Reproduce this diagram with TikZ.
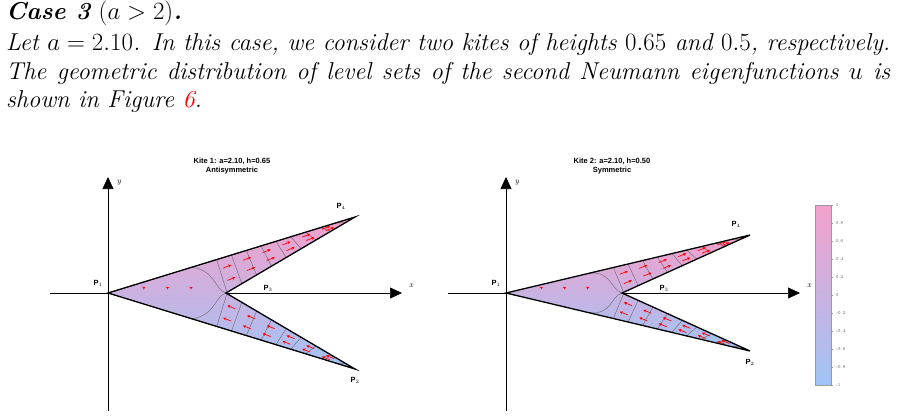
\documentclass[tikz,border=0pt]{standalone}
\usepackage{fontspec}
\newfontfamily\plotfont{Liberation Sans}
\usetikzlibrary{calc,arrows.meta}

\tikzset{%
  kite edge/.style={
    line width=1.3pt,
    line join=miter
  },
  level line/.style={
    draw=black!60,
    line width=0.4pt
  },
  flow arrow/.style={
    red,
    line width=0.7pt,
    -{Stealth[length=3pt,width=3pt]}
  },
  axis/.style={
    line width=0.6pt,
    -{Triangle[length=12pt,width=11pt]}
  },
  vertex label/.style={
    font=\plotfont\fontsize{7.5}{8}\selectfont\bfseries
  },
  plot title/.style={
    font=\plotfont\fontsize{7.5}{8.5}\selectfont\bfseries,
    align=center
  },
  tick label/.style={
    font=\fontsize{4.5}{5}\selectfont,
    anchor=west,
    text=black!60
  },
}

\definecolor{kitepink}{RGB}{244,160,204}
\definecolor{kitemid}{RGB}{200,180,228}
\definecolor{kiteblue}{RGB}{160,196,246}

\begin{document}
\begin{tikzpicture}[x=1pt, y=-1pt]

\useasboundingbox (0,0) rectangle (897,418);

% text above the figure
\node [anchor=north west, inner sep=0pt, text width=884pt, align=justify,
  font=\fontsize{24.4}{28.5}\selectfont\itshape] (text) at (6,1)
  {\textbf{Case 3} $(a>2)$\textbf{.}\\[2.5pt]
   Let $a=2.10$. In this case, we consider two kites of heights $0.65$ and $0.5$, respectively.
   The geometric distribution of level sets of the second Neumann eigenfunctions $u$ is
   shown in Figure \textcolor{red}{6}.};

% two kites
\foreach \ox/\tipx/\tipy/\px/\name/\h/\kind/\tx in
    {0/355/76/226/1/0.65/Antisymmetric/232, 398/750/58/622/2/0.50/Symmetric/214} {
  \begin{scope}[xshift=\ox]
    \coordinate (P1-\name) at (108,293);
    \coordinate (P3-\name) at (\px-\ox,293);
    \coordinate (P4-\name) at (\tipx-\ox,293-\tipy);
    \coordinate (P2-\name) at (\tipx-\ox,293+\tipy);

    \node [plot title] (title-\name) at (\tx,166) {Kite \name: a=2.10, h=\h\\\kind};

    \draw [axis] (50,293) -- (402,293) coordinate (xend-\name);
    \draw [axis] (108,411) -- (108,177) coordinate (yend-\name);
    \node [font=\fontsize{8}{9}\selectfont\itshape] (x-\name) at (411,286) {x};
    \node [font=\fontsize{8}{9}\selectfont\itshape] (y-\name) at (119,183) {y};

    \shade [top color=kitepink, middle color=kitemid, bottom color=kiteblue]
      (P1-\name) -- (P4-\name) -- (P3-\name) -- (P2-\name) -- cycle;

    % level lines across the arms
    \foreach \s in {0.44,0.5,...,0.95} {
      \pgfmathsetmacro{\t}{min(0.97,(\s*(\tipx-\ox-108)-(\px-\ox-108))/(\tipx-\px)+0.08)}
      \draw [level line] ($(P1-\name)!\s!(P4-\name)$) -- ($(P3-\name)!\t!(P4-\name)$);
      \draw [level line] ($(P1-\name)!\s!(P2-\name)$) -- ($(P3-\name)!\t!(P2-\name)$);
    }
    \draw [level line] ($(P1-\name)!0.34!(P4-\name)$)
      .. controls ($(P3-\name)+(-10,-22)$) and ($(P3-\name)+(-12,-4)$) .. (P3-\name);
    \draw [level line] ($(P1-\name)!0.34!(P2-\name)$)
      .. controls ($(P3-\name)+(-10,22)$) and ($(P3-\name)+(-12,4)$) .. (P3-\name);

    % gradient arrows
    \foreach \s in {0.47,0.55,...,0.9}
      \foreach \u in {0.3,0.7} {
        \pgfmathsetmacro{\t}{min(0.97,(\s*(\tipx-\ox-108)-(\px-\ox-108))/(\tipx-\px)+0.08)}
        \coordinate (a) at ($($(P1-\name)!\s!(P4-\name)$)!\u!($(P3-\name)!\t!(P4-\name)$)$);
        \draw [flow arrow] ($(a)+(-4,1.6)$) -- ($(a)+(4,-1.6)$);
        \coordinate (b) at ($($(P1-\name)!\s!(P2-\name)$)!\u!($(P3-\name)!\t!(P2-\name)$)$);
        \draw [flow arrow] ($(b)+(4,1.6)$) -- ($(b)+(-4,-1.6)$);
      }
    \foreach \s in {0.3,0.5,0.7}
      \draw [flow arrow, line width=0.4pt] ($(P1-\name)!\s!(P3-\name)+(0,-5)$) -- ++(2,-1);

    \draw [kite edge] (P1-\name) -- (P4-\name) -- (P3-\name) -- (P2-\name) -- cycle;

    \node [vertex label] (l1-\name) at (98,283) {P$_1$};
    \node [vertex label] (l3-\name) at (\px-\ox+42,288) {P$_3$};
    \node [vertex label] (l4-\name) at (\tipx-\ox-14,293-\tipy-11) {P$_4$};
    \node [vertex label] (l2-\name) at (\tipx-\ox,293+\tipy+11) {P$_2$};
  \end{scope}
}

% colour bar
\shade [top color=kitepink, middle color=kitemid, bottom color=kiteblue, draw=black!40]
  (815,205) rectangle (831,385);
\foreach \v [count=\i from 0] in {1,0.8,0.6,0.4,0.2,0,-0.2,-0.4,-0.6,-0.8,-1} {
  \draw [black!40, line width=0.3pt] (831,205+\i*18) -- ++(2,0);
  \node [tick label] (tick-\i) at (832,205+\i*18) {\v};
}

\end{tikzpicture}
\end{document}
